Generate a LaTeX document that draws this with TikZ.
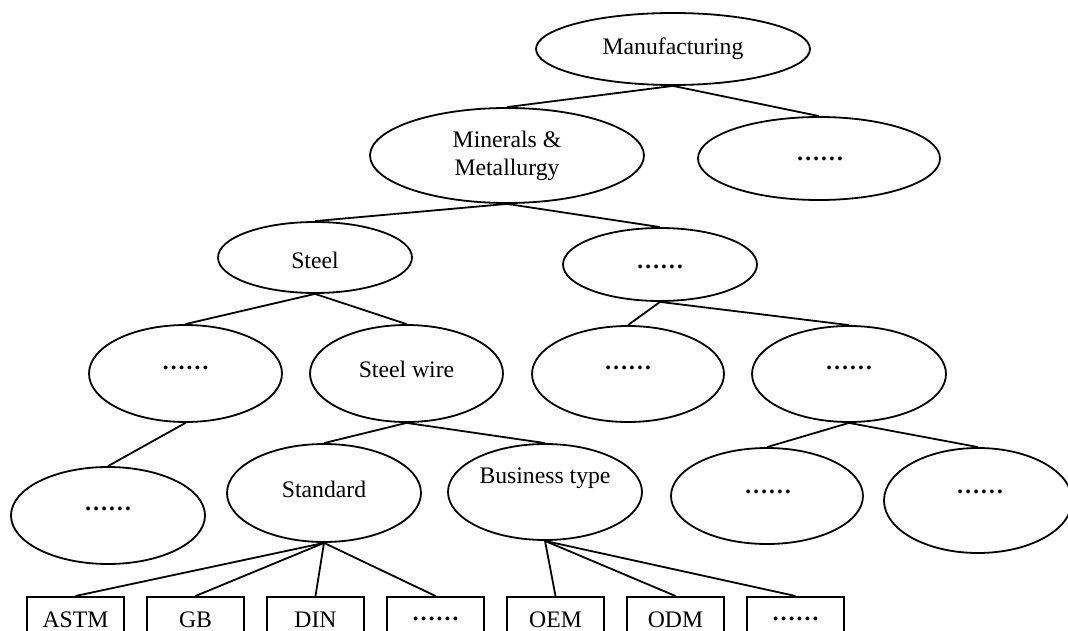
\documentclass[tikz,border=0pt]{standalone}
\usepackage{fontspec}
\setmainfont{Liberation Serif}
\usetikzlibrary{shapes.geometric}
\newcommand{\etcdots}{\textbf{……}}
\begin{document}
\begin{tikzpicture}[x=1pt,y=-1pt,
  every node/.style={font=\fontsize{23.7}{28}\selectfont},
  oval/.style={draw, line width=1.8pt, ellipse, inner sep=0pt},
  box/.style={draw, line width=1.8pt, rectangle, inner sep=0pt,
              minimum width=97pt, minimum height=50pt, anchor=north},
  lbl/.style={inner sep=0pt, anchor=base},
  link/.style={line width=1.8pt}]
\useasboundingbox (0,0) rectangle (1068,631);
\clip (0,0) rectangle (1068,631);
\fill[white] (0,0) rectangle (1068,631);

% category ellipses
\node[oval, minimum width=274pt, minimum height=72pt] (mfg)   at (673,49)    {};
\node[oval, minimum width=274pt, minimum height=95pt] (min)   at (507,155.5) {};
\node[oval, minimum width=242pt, minimum height=83pt] (etcA)  at (819,158.5) {};
\node[oval, minimum width=194pt, minimum height=71pt] (steel) at (315,257.5) {};
\node[oval, minimum width=194pt, minimum height=73pt] (etcB)  at (660,264.5) {};
\node[oval, minimum width=193pt, minimum height=97pt] (etcC)  at (185.5,373.5) {};
\node[oval, minimum width=193pt, minimum height=97pt] (wire)  at (406.5,373.5) {};
\node[oval, minimum width=192pt, minimum height=96pt] (etcD)  at (628,374)   {};
\node[oval, minimum width=194pt, minimum height=96pt] (etcE)  at (849,374)   {};
\node[oval, minimum width=194pt, minimum height=97pt] (etcF)  at (108,515.5) {};
\node[oval, minimum width=194pt, minimum height=98pt] (std)   at (324,493)   {};
\node[oval, minimum width=194pt, minimum height=96pt] (biz)   at (545,492)   {};
\node[oval, minimum width=192pt, minimum height=96pt] (etcG)  at (767,496)   {};
\node[oval, minimum width=188pt, minimum height=105pt] (etcH) at (978,500.5) {};

% ellipse labels
\node[lbl] (mfg-t)   at (673,55)    {Manufacturing};
\node[inner sep=0pt, align=center] (min-t) at (507,155.5) {Minerals \&\\Metallurgy};
\node[lbl] (etcA-t)  at (820,160.2) {\etcdots};
\node[lbl] (steel-t) at (315,269)   {Steel};
\node[lbl] (etcB-t)  at (660,268)   {\etcdots};
\node[lbl] (etcC-t)  at (185.5,369.5) {\etcdots};
\node[lbl] (wire-t)  at (406.5,377) {Steel wire};
\node[lbl] (etcD-t)  at (628,369.5) {\etcdots};
\node[lbl] (etcE-t)  at (849,369.5) {\etcdots};
\node[lbl] (etcF-t)  at (108,510.5) {\etcdots};
\node[lbl] (std-t)   at (324,497)   {Standard};
\node[lbl] (biz-t)   at (545,483)   {Business type};
\node[lbl] (etcG-t)  at (768,493.5) {\etcdots};
\node[lbl] (etcH-t)  at (980,493.5) {\etcdots};

% leaf boxes (their lower edge runs past the page)
\node[box] (astm) at (75.5,596)  {};
\node[box] (gb)   at (195.5,596) {};
\node[box] (din)  at (315.5,596) {};
\node[box] (etcS) at (435.5,596) {};
\node[box] (oem)  at (555.5,596) {};
\node[box] (odm)  at (675.5,596) {};
\node[box] (etcT) at (795.5,596) {};

% leaf labels
\node[lbl] (astm-t) at (75.5,627.5)  {ASTM};
\node[lbl] (gb-t)   at (195.5,627.5) {GB};
\node[lbl] (din-t)  at (315.5,627.5) {DIN};
\node[lbl] (etcS-t) at (435.5,620.5) {\etcdots};
\node[lbl] (oem-t)  at (555.5,627.5) {OEM};
\node[lbl] (odm-t)  at (675.5,627.5) {ODM};
\node[lbl] (etcT-t) at (795.5,620.5) {\etcdots};

% tree connectors
\draw[link] (mfg.south) -- (min.north);
\draw[link] (mfg.south) -- (etcA.north);
\draw[link] (min.south) -- (steel.north);
\draw[link] (min.south) -- (etcB.north);
\draw[link] (steel.south) -- (etcC.north);
\draw[link] (steel.south) -- (wire.north);
\draw[link] (etcB.south) -- (etcD.north);
\draw[link] (etcB.south) -- (etcE.north);
\draw[link] (etcC.south) -- (etcF.north);
\draw[link] (wire.south) -- (std.north);
\draw[link] (wire.south) -- (biz.north);
\draw[link] (etcE.south) -- (etcG.north);
\draw[link] (etcE.south) -- (etcH.north);
\draw[link] (std.south) -- (astm.north);
\draw[link] (std.south) -- (gb.north);
\draw[link] (std.south) -- (din.north);
\draw[link] (std.south) -- (etcS.north);
\draw[link] (biz.south) -- (oem.north);
\draw[link] (biz.south) -- (odm.north);
\draw[link] (biz.south) -- (etcT.north);
\end{tikzpicture}
\end{document}
